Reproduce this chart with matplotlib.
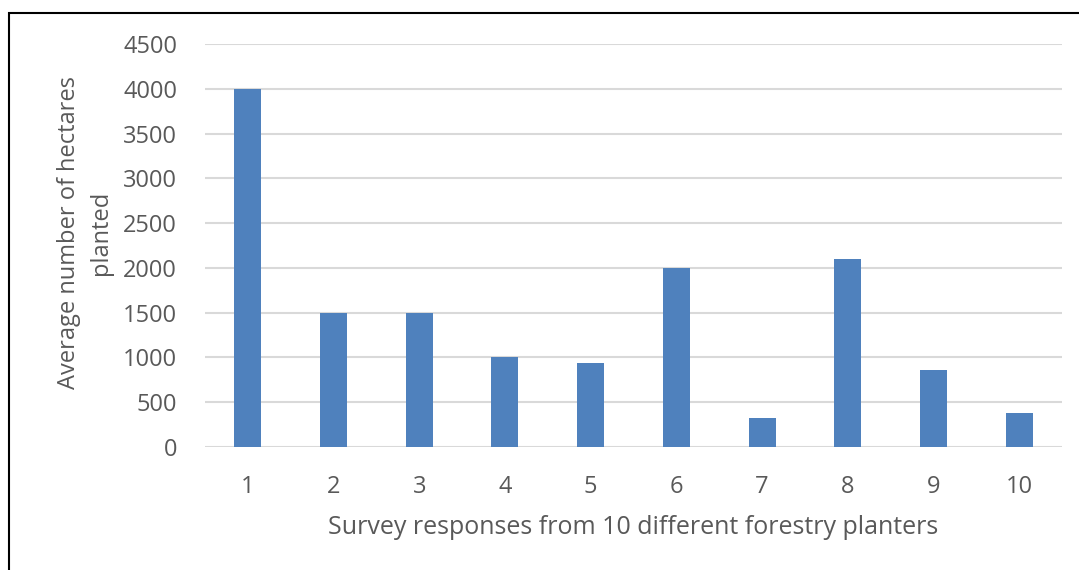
import matplotlib.pyplot as plt
import matplotlib.patches as patches
import matplotlib

matplotlib.rcParams['font.family'] = ['Open Sans', 'DejaVu Sans']

# survey data
responses = ['1', '2', '3', '4', '5', '6', '7', '8', '9', '10']
hectares = [4000, 1500, 1500, 1000, 940, 2000, 320, 2100, 860, 380]
yticks = [0, 500, 1000, 1500, 2000, 2500, 3000, 3500, 4000, 4500]

W, H = 1079, 570
fig = plt.figure(figsize=(W / 100, H / 100), dpi=100)
ax = fig.add_axes([205 / W, 1 - 447 / H, (1062 - 205) / W, (447 - 44) / H])

text_col = '#595959'
ax.bar(range(len(responses)), hectares, width=0.315, color='#4f81bd', zorder=3)

ax.set_xlim(-0.5, len(responses) - 0.5)
ax.set_ylim(0, 4500)
ax.set_yticks(yticks)
ax.set_xticks(range(len(responses)))
ax.set_xticklabels(responses)
ax.grid(axis='y', color='#d9d9d9', linewidth=1.5, zorder=0)
for s in ax.spines.values():
    s.set_visible(False)
ax.tick_params(axis='both', length=0, labelsize=17, colors=text_col)
ax.tick_params(axis='y', pad=20)
ax.tick_params(axis='x', pad=20)

ax.set_xlabel('Survey responses from 10 different forestry planters',
              fontsize=18, color=text_col, labelpad=12)
fig.text(85 / W, 1 - 233 / H, 'Average number of hectares\nplanted',
         rotation=90, ha='center', va='center', fontsize=17,
         color=text_col, linespacing=1.4, multialignment='center')

# outer frame (left and top edges visible)
frame = patches.Rectangle((9 / W, -0.1), 1.2, 1 - 13 / H + 0.1,
                          transform=fig.transFigure, fill=False,
                          edgecolor='black', linewidth=1.5)
fig.patches.append(frame)

fig.savefig('out.png', dpi=100)
